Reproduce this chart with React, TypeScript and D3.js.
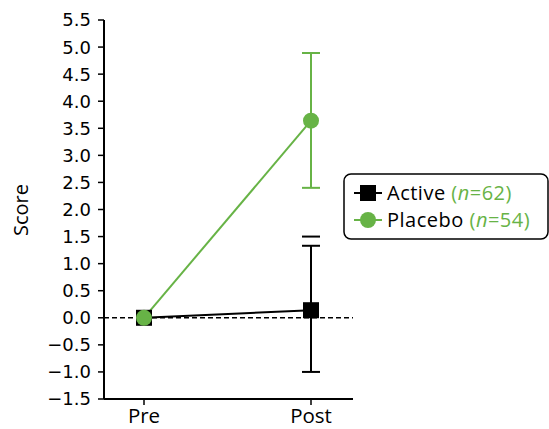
import React from "react";
import * as d3 from "d3";

const categories = ["Pre", "Post"];
const yTicks = [-1.5, -1.0, -0.5, 0.0, 0.5, 1.0, 1.5, 2.0, 2.5, 3.0, 3.5, 4.0, 4.5, 5.0, 5.5];
const activeMean = [0.0, 0.14];
const activeLow = [null, -1.0];
const activeHigh = [null, 1.33];
const activeExtraCap = [null, 1.5];
const placeboMean = [0.0, 3.64];
const placeboLow = [null, 2.4];
const placeboHigh = [null, 4.89];
const legendLabels = [
  { name: "Active", n: "62" },
  { name: "Placebo", n: "54" },
];

const GREEN = "#67b346";
const W = 549, H = 429;
const left = 104, right = 353, top = 20, bottom = 399;

export default function App() {
  const y = d3.scaleLinear().domain([-1.5, 5.5]).range([bottom, top]);
  const x = d3.scalePoint<string>().domain(categories).range([144, 311]);
  const line = d3
    .line<number>()
    .x((_, i) => x(categories[i])!)
    .y((d) => y(d));
  const tickFont = "DejaVu Sans";
  const textFont = "Open Sans";
  const cap = 9;
  return (
    <svg width={W} height={H} style={{ position: "absolute", left: 0, top: 0 }}>
      <rect width={W} height={H} fill="#fff" />
      {/* zero line */}
      <line x1={left} x2={right} y1={y(0)} y2={y(0)} stroke="#000" strokeWidth={1.5} strokeDasharray="5,3" />
      {/* y axis */}
      <line x1={left} x2={left} y1={top} y2={bottom} stroke="#000" strokeWidth={2} />
      {yTicks.map((t) => (
        <g key={t}>
          <line x1={left - 6} x2={left} y1={y(t)} y2={y(t)} stroke="#000" strokeWidth={1.5} />
          <text x={left - 13} y={y(t)} dy="0.36em" textAnchor="end" fontFamily={tickFont} fontSize={18} fill="#000">
            {t < 0 ? "\u2212" + Math.abs(t).toFixed(1) : t.toFixed(1)}
          </text>
        </g>
      ))}
      {/* x axis */}
      <line x1={left} x2={right} y1={bottom} y2={bottom} stroke="#000" strokeWidth={2} />
      {categories.map((c) => (
        <g key={c}>
          <line x1={x(c)} x2={x(c)} y1={bottom} y2={bottom + 6} stroke="#000" strokeWidth={1.5} />
          <text x={x(c)} y={bottom + 24} textAnchor="middle" fontFamily={textFont} fontSize={20.5} fill="#000">
            {c}
          </text>
        </g>
      ))}
      <text transform={`translate(28,210) rotate(-90)`} textAnchor="middle" fontFamily={textFont} fontSize={20} fill="#000">
        Score
      </text>
      {/* Active error bars */}
      {categories.map((c, i) =>
        activeLow[i] != null ? (
          <g key={"ae" + c} stroke="#000" strokeWidth={2}>
            <line x1={x(c)} x2={x(c)} y1={y(activeLow[i]!)} y2={y(activeHigh[i]!)} />
            <line x1={x(c)! - cap} x2={x(c)! + cap} y1={y(activeLow[i]!)} y2={y(activeLow[i]!)} />
            <line x1={x(c)! - cap} x2={x(c)! + cap} y1={y(activeHigh[i]!)} y2={y(activeHigh[i]!)} />
            {activeExtraCap[i] != null && (
              <line x1={x(c)! - cap} x2={x(c)! + cap} y1={y(activeExtraCap[i]!)} y2={y(activeExtraCap[i]!)} />
            )}
          </g>
        ) : null
      )}
      {/* Placebo error bars */}
      {categories.map((c, i) =>
        placeboLow[i] != null ? (
          <g key={"pe" + c} stroke={GREEN} strokeWidth={2}>
            <line x1={x(c)} x2={x(c)} y1={y(placeboLow[i]!)} y2={y(placeboHigh[i]!)} />
            <line x1={x(c)! - cap} x2={x(c)! + cap} y1={y(placeboLow[i]!)} y2={y(placeboLow[i]!)} />
            <line x1={x(c)! - cap} x2={x(c)! + cap} y1={y(placeboHigh[i]!)} y2={y(placeboHigh[i]!)} />
          </g>
        ) : null
      )}
      {/* lines */}
      <path d={line(activeMean)!} fill="none" stroke="#000" strokeWidth={2} />
      <path d={line(placeboMean)!} fill="none" stroke={GREEN} strokeWidth={2} />
      {activeMean.map((v, i) => (
        <rect key={"am" + i} x={x(categories[i])! - 8} y={y(v) - 8} width={16} height={16} fill="#000" />
      ))}
      {placeboMean.map((v, i) => (
        <circle key={"pm" + i} cx={x(categories[i])} cy={y(v)} r={8} fill={GREEN} />
      ))}
      {/* legend */}
      <rect x={344} y={174} width={204} height={65} rx={7} fill="#fff" stroke="#000" strokeWidth={1.5} />
      {legendLabels.map((l, i) => {
        const ly = 193 + i * 27;
        const col = i === 0 ? "#000" : GREEN;
        return (
          <g key={l.name}>
            <line x1={354} x2={382} y1={ly} y2={ly} stroke={col} strokeWidth={2} />
            {i === 0 ? (
              <rect x={360} y={ly - 8} width={16} height={16} fill="#000" />
            ) : (
              <circle cx={368} cy={ly} r={8} fill={GREEN} />
            )}
            <text x={387} y={ly} dy="0.36em" fontFamily={textFont} fontSize={20} letterSpacing={0.5} fill="#000">
              {l.name}
              <tspan fill={GREEN}>
                {" ("}
                <tspan fontStyle="italic">n</tspan>
                {"=" + l.n + ")"}
              </tspan>
            </text>
          </g>
        );
      })}
    </svg>
  );
}
